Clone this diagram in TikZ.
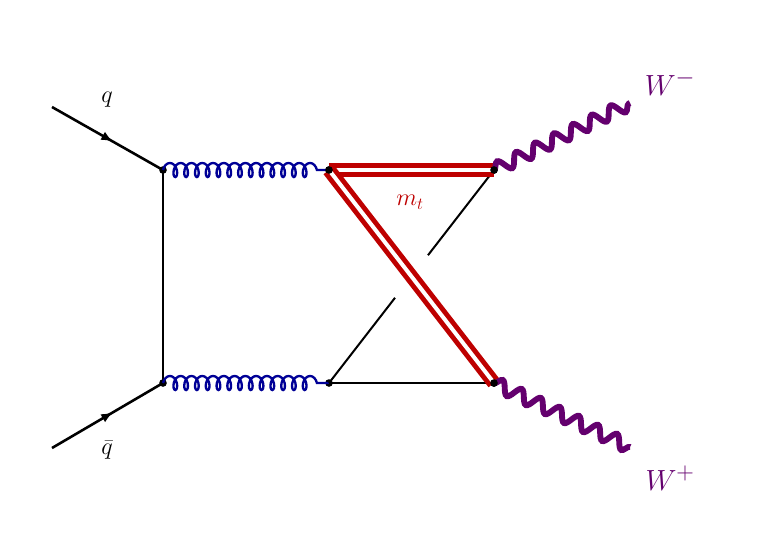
\documentclass[tikz,border=0pt]{standalone}
\usetikzlibrary{decorations.pathmorphing,decorations.markings,calc,arrows.meta}
\begin{document}
\begin{tikzpicture}[x=0.03cm,y=-0.03cm,
  vtx/.style={circle,fill=black,inner sep=0pt,minimum size=6.5pt},
  fermion/.style={line width=2.2pt,postaction={decorate},decoration={markings,mark=at position 0.55 with {\arrow{Latex[length=10pt,width=8pt]}}}},
  gluon/.style={draw={rgb,255:red,0;green,0;blue,150},line width=2pt,decorate,decoration={coil,aspect=0.6,segment length=9.2pt,amplitude=6pt,post length=8pt}},
  top/.style={draw={rgb,255:red,190;green,0;blue,0},line width=4.2pt,double=white,double distance=3.4pt},
  wboson/.style={draw={rgb,255:red,100;green,0;blue,110},line width=5pt,decorate,decoration={snake,segment length=18pt,amplitude=5.5pt}},
  plain/.style={line width=1.7pt},
  lab/.style={font=\fontsize{20}{24}\selectfont},
  wlab/.style={font=\fontsize{30}{36}\selectfont,text={rgb,255:red,100;green,0;blue,110}}]
\useasboundingbox (0,0) rectangle (768,556);
\coordinate (qi) at (52,107);
\coordinate (qbi) at (52,448);
\coordinate (wm) at (630,103);
\coordinate (wp) at (630,447);
\node[vtx] (a) at (163,170) {};
\node[vtx] (b) at (163,383) {};
\node[vtx] (c) at (329,170) {};
\node[vtx] (d) at (329,383) {};
\node[vtx] (e) at (494,170) {};
\node[vtx] (f) at (494,383) {};
\draw[fermion] (qi) -- (a.center);
\draw[fermion] (qbi) -- (b.center);
\draw[line width=2.2pt] (a.center) -- (b.center);
\draw[gluon] (a.center) -- (c.center);
\draw[gluon] (b.center) -- (d.center);
\draw[plain] (d.center) -- (f.center);
\draw[plain] (e.center) -- ($(e)!0.4!(d)$);
\draw[plain] ($(e)!0.6!(d)$) -- (d.center);
\draw[top] (c.center) -- (e.center);
\draw[top] (c.center) -- (f.center);
\draw[wboson] (e.center) -- (wm);
\draw[wboson] (f.center) -- (wp);
\node[vtx] at (c) {};
\node[vtx] at (e) {};
\node[vtx] at (f) {};
\node[lab] (lq) at (107,100) {$q$};
\node[lab] (lqb) at (107,450) {$\bar q$};
\node[lab,text={rgb,255:red,190;green,0;blue,0}] (lm) at (410,202) {$m_t$};
\node[wlab] (lwm) at (670,83) {$W^{-}$};
\node[wlab] (lwp) at (670,478) {$W^{+}$};
\end{tikzpicture}
\end{document}
